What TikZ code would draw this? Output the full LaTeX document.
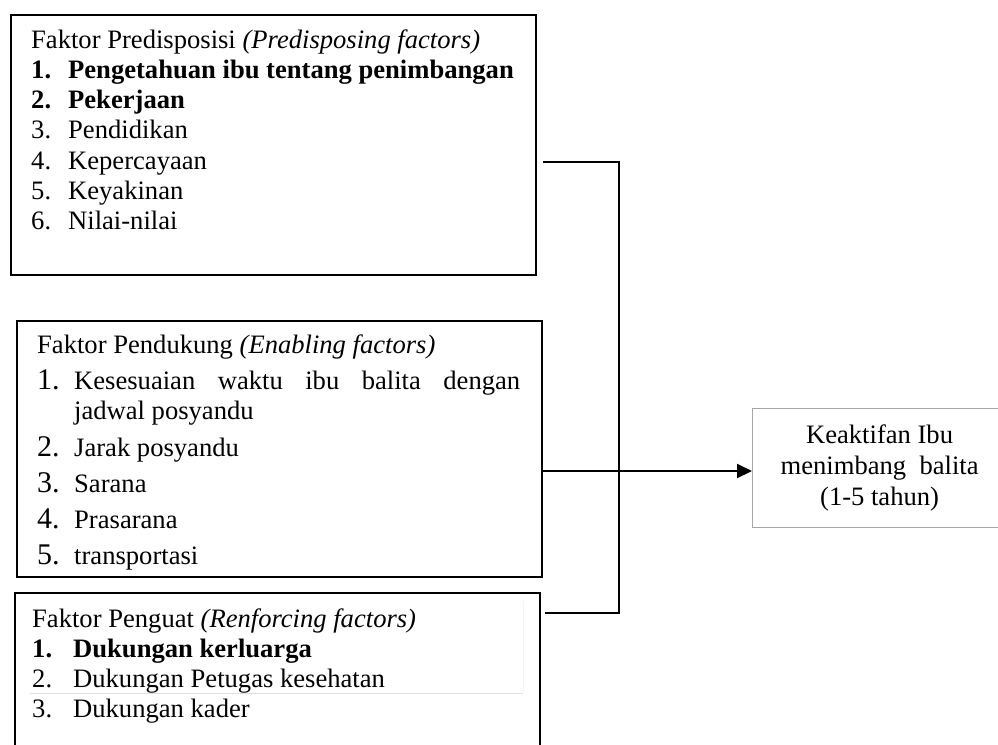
\documentclass[tikz,border=0pt]{standalone}
\usepackage{fontspec}
\setmainfont{Liberation Serif}
\usepackage{tikz}
\usetikzlibrary{arrows.meta,positioning,calc}
\newcommand{\bodysize}{\fontsize{26.6}{30.3}\selectfont}
\newcommand{\numsize}{\fontsize{30}{30.3}\selectfont}

\begin{document}
\begin{tikzpicture}[x=1pt, y=-1pt, font=\bodysize,
  bx/.style={draw, line width=2pt, inner sep=0pt, anchor=north west},
  txt/.style={inner sep=0pt, anchor=base west},
  conn/.style={line width=2pt}]
\useasboundingbox (0,0) rectangle (998,744);
\clip (0,0) rectangle (998,744);
% three factor boxes
\node[bx, minimum width=525pt, minimum height=260.5pt] (pred) at (10,13.5) {};
\node[bx, minimum width=525pt, minimum height=256.5pt] (duk) at (16,319.5) {};
\node[bx, minimum width=525.5pt, minimum height=170pt] (peng) at (13.5,591.5) {};
% outcome box
\node[draw=gray!70, line width=1.2pt, minimum width=254pt, minimum height=119pt,
  anchor=north west, align=center, font=\fontsize{26.6}{31}\selectfont] (akt) at (752,408)
  {Keaktifan Ibu\\menimbang\ \ balita\\(1-5 tahun)};
% box texts
\node[txt] (predtxt) at (31,48) {\begin{tabular}[t]{@{}p{37pt}@{}l@{}}
  \multicolumn{2}{@{}l@{}}{Faktor Predisposisi \textit{(Predisposing factors)}}\\
  \textbf{1.} & \textbf{Pengetahuan ibu tentang penimbangan}\\
  \textbf{2.} & \textbf{Pekerjaan}\\
  3. & Pendidikan\\
  4. & Kepercayaan\\
  5. & Keyakinan\\
  6. & Nilai-nilai
\end{tabular}};
\node[txt] (duktxt) at (37,353) {\begin{tabular}[t]{@{}p{37pt}@{}l@{}}
  \multicolumn{2}{@{}l@{}}{Faktor Pendukung \textit{(Enabling factors)}}\\[5.7pt]
  {\numsize 1.} & \makebox[446pt][s]{Kesesuaian waktu ibu balita dengan}\\
   & jadwal posyandu\\[6.7pt]
  {\numsize 2.} & Jarak posyandu\\[5.7pt]
  {\numsize 3.} & Sarana\\[5.7pt]
  {\numsize 4.} & Prasarana\\[5.7pt]
  {\numsize 5.} & transportasi
\end{tabular}};
\node[txt] (pengtxt) at (32,627) {\begin{tabular}[t]{@{}p{41pt}@{}l@{}}
  \multicolumn{2}{@{}l@{}}{Faktor Penguat \textit{(Renforcing factors)}}\\
  \textbf{1.} & \textbf{Dukungan kerluarga}\\
  2. & Dukungan Petugas kesehatan\\
  3. & Dukungan kader
\end{tabular}};
% faint rule under item 2
\draw[gray!25, line width=1.5pt] (30,693.5) -- (523,693.5);
\draw[gray!8, line width=1pt] (523,601) -- (523,693);
% connectors
\coordinate (bustop) at (619,162);
\coordinate (busbot) at (619,613);
\draw[conn] ([xshift=6pt]pred.east |- bustop) -- (bustop) -- (busbot) -- ([xshift=4pt]peng.east |- busbot);
\draw[conn, -{Triangle[length=15pt, width=14pt]}] (duk.east |- 0,471) -- (akt.west |- 0,471);
\end{tikzpicture}
\end{document}
